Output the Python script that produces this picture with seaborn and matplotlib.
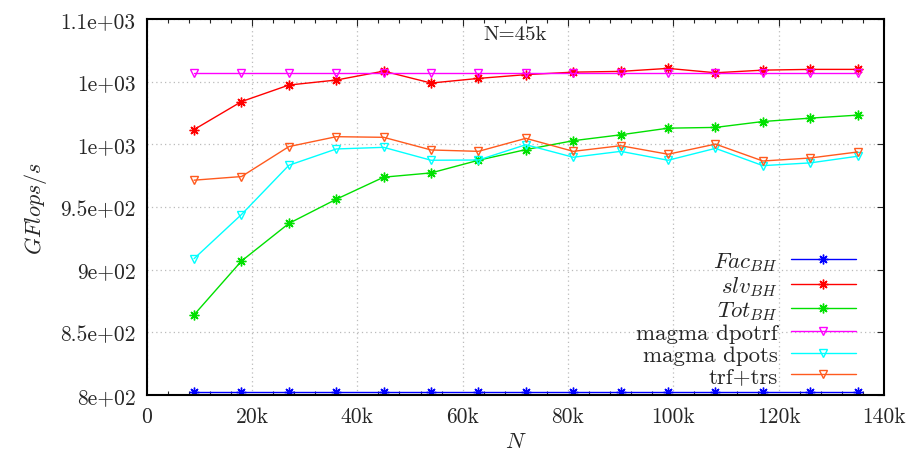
import matplotlib
matplotlib.use("Agg")
import matplotlib.pyplot as plt
from matplotlib.ticker import FuncFormatter, MultipleLocator
import numpy as np
import pandas as pd
import seaborn as sns

# Problem sizes (thousands)
n_k = [9, 18, 27, 36, 45, 54, 63, 72, 81, 90, 99, 108, 117, 126, 135]

# Performance in GFlops/s
fac_bh = [802] * 15
slv_bh = [1011.8, 1034.1, 1047.3, 1051.3, 1058.4, 1048.9, 1052.6, 1055.6,
          1057.6, 1058.2, 1060.6, 1057.1, 1059.2, 1059.8, 1059.8]
tot_bh = [864.0, 906.9, 936.9, 956.2, 973.8, 977.2, 987.3, 995.8,
          1002.9, 1007.6, 1012.9, 1013.5, 1018.2, 1020.9, 1023.3]
magma_dpotrf = [1057.2] * 15
magma_dpots = [908.8, 944.0, 983.3, 996.3, 997.6, 987.3, 987.5, 999.7,
               989.7, 994.4, 987.3, 996.8, 983.0, 985.2, 990.5]
trf_trs = [971.4, 974.3, 998.2, 1006.1, 1005.6, 995.5, 994.4, 1004.8,
           994.4, 998.9, 992.1, 1000.2, 986.7, 989.1, 993.9]

labels = [r"$Fac_{BH}$", r"$slv_{BH}$", r"$Tot_{BH}$",
          "magma dpotrf", "magma dpots", "trf+trs"]
series = [fac_bh, slv_bh, tot_bh, magma_dpotrf, magma_dpots, trf_trs]
colors = ["#0000ff", "#ff0000", "#00e000", "#ff00ff", "#00ffff", "#ff5a1e"]
markers = [(8, 2, 0), (8, 2, 0), (8, 2, 0), "v", "v", "v"]

rows = []
for lab, vals in zip(labels, series):
    for n, v in zip(n_k, vals):
        rows.append({"N": n * 1000, "perf": v, "series": lab})
df = pd.DataFrame(rows)

sns.set_theme(style="white")
plt.rcParams["font.family"] = ["cmr10", "DejaVu Serif"]
plt.rcParams["mathtext.fontset"] = "cm"
plt.rcParams["axes.formatter.use_mathtext"] = True

fig = plt.figure(figsize=(9.11, 4.6), dpi=100)
ax = fig.add_axes([146.7 / 911, 1 - 396 / 460, (884 - 146.7) / 911, (396 - 20) / 460])

for lab, col, mk in zip(labels, colors, markers):
    sub = df[df["series"] == lab]
    filled = not isinstance(mk, str)
    sns.lineplot(data=sub, x="N", y="perf", ax=ax, color=col, lw=1.0,
                 marker=mk, markersize=7 if filled else 6,
                 markerfacecolor=col if filled else "none",
                 markeredgecolor=col, markeredgewidth=1.0,
                 label=lab, legend=False)

ax.set_xlim(0, 140000)
ax.set_ylim(800, 1100)
ax.xaxis.set_major_locator(MultipleLocator(20000))
ax.xaxis.set_minor_locator(MultipleLocator(4000))
ax.yaxis.set_major_locator(MultipleLocator(50))
ax.xaxis.set_major_formatter(FuncFormatter(lambda v, p: "0" if v == 0 else f"{int(v/1000)}k"))
ax.yaxis.set_major_formatter(FuncFormatter(lambda v, p: "%.2g" % v))

ax.grid(True, which="major", color="#bbbbbb", linestyle=(0, (1, 2.5)), lw=0.9)
ax.tick_params(axis="both", which="major", direction="in", length=5, width=0.8,
               labelsize=15.5, top=True, right=True, pad=8)
ax.tick_params(axis="both", which="minor", direction="in", length=3, width=0.8,
               top=True, bottom=True)
for s in ax.spines.values():
    s.set_color("black")
    s.set_linewidth(1.5)

ax.set_xlabel(r"$N$", fontsize=16, labelpad=4)
ax.set_ylabel(r"$GFlops/s$", fontsize=16, labelpad=8)
ax.text(0.5, 0.985, "N=45k", transform=ax.transAxes, ha="center", va="top", fontsize=15)

handles, labs = ax.get_legend_handles_labels()
leg = ax.legend(handles, labs, loc="lower right", bbox_to_anchor=(0.98, -0.012),
                markerfirst=False, frameon=False, fontsize=16.5,
                handlelength=2.8, handletextpad=0.6, labelspacing=0.05,
                borderaxespad=0.2)

fig.savefig("out.png", dpi=100)
